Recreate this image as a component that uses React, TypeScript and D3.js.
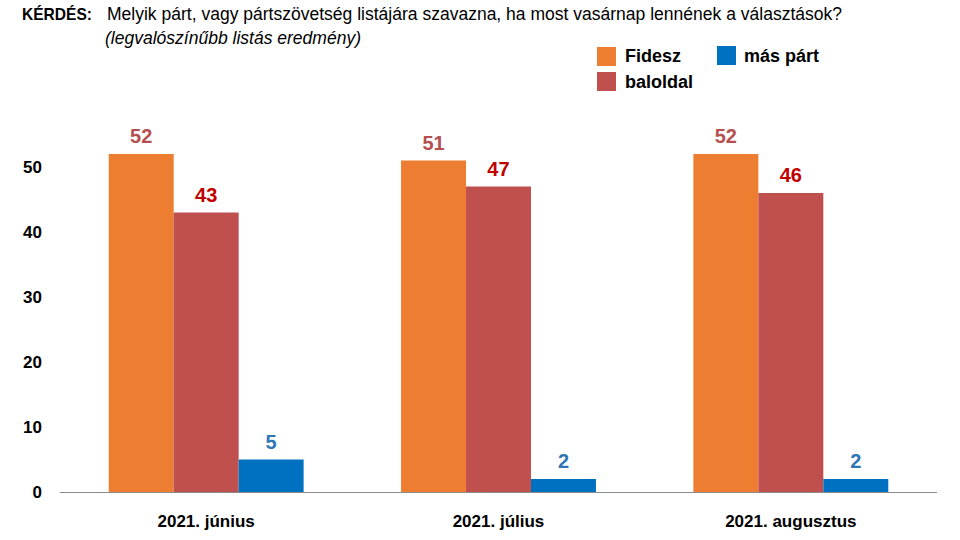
import React from "react";
import * as d3 from "d3";

const categories = ["2021. június", "2021. július", "2021. augusztus"];
const seriesNames = ["Fidesz", "baloldal", "más párt"];
const fidesz = [52, 51, 52];
const baloldal = [43, 47, 46];
const masPart = [5, 2, 2];
const yTicks = [0, 10, 20, 30, 40, 50];

const colors = ["#ED7D31", "#C0504D", "#0070C0"];
const labelColors = ["#B5504F", "#C00000", "#2E75B6"];

const W = 960, H = 540;
const narrow = "'Liberation Sans Narrow', 'Arial Narrow', 'Liberation Sans', Arial, sans-serif";
const sans = "'Liberation Sans', Arial, sans-serif";

export default function App() {
  const series = [fidesz, baloldal, masPart];
  const x0 = d3.scaleBand<string>().domain(categories).range([60, 937]).paddingInner(1 / 3).paddingOuter(1 / 6);
  const x1 = d3.scaleBand<string>().domain(seriesNames).range([0, x0.bandwidth()]);
  const y = d3.scaleLinear().domain([0, 50]).range([492, 167]);

  return (
    <svg width={W} height={H} style={{ position: "absolute", left: 0, top: 0, background: "#fff" }}>
      <rect x={0} y={0} width={W} height={H} fill="#fff" />
      <text x={22} y={20} fontFamily={narrow} fontSize={17} fontWeight="bold" fill="#000" textLength={70} lengthAdjust="spacingAndGlyphs">
        KÉRDÉS:
      </text>
      <text x={107} y={20} fontFamily={narrow} fontSize={17.5} fill="#000" textLength={735} lengthAdjust="spacingAndGlyphs">
        Melyik párt, vagy pártszövetség listájára szavazna, ha most vasárnap lennének a választások?
      </text>
      <text x={105} y={44} fontFamily={narrow} fontSize={17.5} fontStyle="italic" fill="#000" textLength={256} lengthAdjust="spacingAndGlyphs">
        (legvalószínűbb listás eredmény)
      </text>

      {/* legend */}
      <g fontFamily={narrow} fontSize={18} fontWeight="bold" fill="#000">
        <rect x={597} y={47} width={19} height={19} fill={colors[0]} />
        <text x={625} y={62}>{seriesNames[0]}</text>
        <rect x={597} y={72} width={19} height={19} fill={colors[1]} />
        <text x={625} y={88}>{seriesNames[1]}</text>
        <rect x={717} y={46} width={19} height={19} fill={colors[2]} />
        <text x={744} y={62}>{seriesNames[2]}</text>
      </g>

      {/* y tick labels */}
      {yTicks.map((t) => (
        <text key={t} x={42} y={y(t)} dy="0.35em" textAnchor="end" fontFamily={narrow} fontSize={17} fontWeight="bold" fill="#000">
          {t}
        </text>
      ))}

      {/* bars */}
      {categories.map((c, ci) => (
        <g key={c} transform={`translate(${x0(c)},0)`}>
          {seriesNames.map((s, si) => {
            const v = series[si][ci];
            const bx = x1(s)!;
            return (
              <g key={s}>
                <rect x={bx} y={y(v)} width={x1.bandwidth()} height={y(0) - y(v)} fill={colors[si]} />
                <text x={bx + x1.bandwidth() / 2} y={y(v) - 11} textAnchor="middle" fontFamily={sans} fontSize={20} fontWeight="bold" fill={labelColors[si]}>
                  {v}
                </text>
              </g>
            );
          })}
          <text x={x0.bandwidth() / 2} y={527} textAnchor="middle" fontFamily={narrow} fontSize={17} fontWeight="bold" fill="#000">
            {c}
          </text>
        </g>
      ))}

      <line x1={60} x2={937} y1={y(0) + 0.5} y2={y(0) + 0.5} stroke="#8c8c8c" strokeWidth={1} />
    </svg>
  );
}
